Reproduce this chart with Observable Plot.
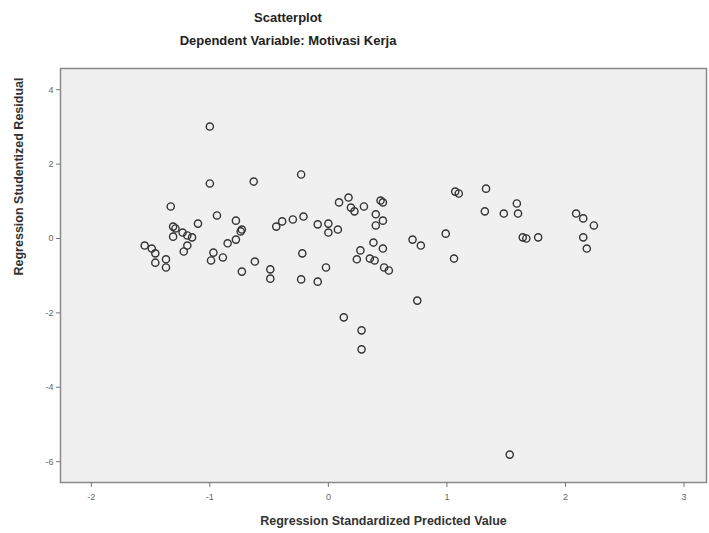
<!DOCTYPE html>
<html>
<head>
<meta charset="utf-8">
<script src="https://cdn.jsdelivr.net/npm/d3@7"></script>
<script src="https://cdn.jsdelivr.net/npm/@observablehq/plot@0.6"></script>
<style>
  html, body { margin: 0; padding: 0; background: #fff; }
  #wrap { width: 709px; height: 533px; position: relative; font-family: "Liberation Sans", Arial, sans-serif; }
  #head { height: 56px; position: relative; }
  .t { position: absolute; left: 0; width: 576px; text-align: center; font-weight: bold; font-size: 13px; color: #222; }
  #t1 { top: 10px; }
  #t2 { top: 33px; }
</style>
</head>
<body>
<div id="wrap">
  <div id="head">
    <div class="t" id="t1">Scatterplot</div>
    <div class="t" id="t2">Dependent Variable: Motivasi Kerja</div>
  </div>
  <div id="chart"></div>
</div>
<script>
const xLabel = "Regression Standardized Predicted Value";
const yLabel = "Regression Studentized Residual";
const xTicks = [-2, -1, 0, 1, 2, 3];
const yTicks = [-6, -4, -2, 0, 2, 4];

const predicted = [
  -1.00, -1.00, -0.63, -0.23, -1.33, -0.94, -0.78, -1.10, -1.31, -1.29,
  -1.31, -1.23, -1.19, -1.15, -1.19, -1.22, -1.55, -1.49, -1.46, -1.46,
  -1.37, -1.37, -0.74, -0.73, -0.78, -0.85, -0.97, -0.89, -0.99, -0.62,
  -0.73, -0.49, -0.49, -0.23, -0.09, -0.44, -0.39, -0.30, -0.21, -0.09,
  -0.22, 0.00, 0.00, 0.08, -0.02, 0.09, 0.17, 0.19, 0.22, 0.30,
  0.44, 0.46, 0.40, 0.46, 0.40, 0.27, 0.38, 0.46, 0.24, 0.35,
  0.39, 0.47, 0.51, 0.71, 0.78, 0.99, 1.06, 0.75, 0.13, 0.28,
  0.28, 1.07, 1.10, 1.33, 1.32, 1.48, 1.59, 1.60, 1.64, 1.67,
  1.77, 2.09, 2.15, 2.24, 2.15, 2.18, 1.53
];
const residual = [
  3.01, 1.48, 1.53, 1.72, 0.86, 0.62, 0.48, 0.40, 0.32, 0.27,
  0.05, 0.16, 0.08, 0.03, -0.19, -0.35, -0.19, -0.27, -0.40, -0.65,
  -0.56, -0.78, 0.19, 0.24, -0.03, -0.13, -0.38, -0.51, -0.59, -0.62,
  -0.89, -0.83, -1.08, -1.10, -1.16, 0.32, 0.46, 0.51, 0.59, 0.38,
  -0.40, 0.40, 0.16, 0.24, -0.78, 0.97, 1.10, 0.83, 0.73, 0.86,
  1.02, 0.97, 0.65, 0.48, 0.35, -0.32, -0.11, -0.27, -0.56, -0.54,
  -0.59, -0.78, -0.86, -0.03, -0.19, 0.13, -0.54, -1.67, -2.12, -2.47,
  -2.98, 1.26, 1.21, 1.34, 0.73, 0.67, 0.94, 0.67, 0.03, 0.00,
  0.03, 0.67, 0.54, 0.35, 0.03, -0.27, -5.81
];

const data = predicted.map((p, i) => ({p, r: residual[i]}));
const fmt = d => String(d);

const chart = Plot.plot({
  width: 709,
  height: 477,
  marginTop: 12,
  marginBottom: 51,
  marginLeft: 60,
  marginRight: 3,
  style: { background: "#fff", fontFamily: "'Liberation Sans', Arial, sans-serif", overflow: "visible" },
  x: { domain: [-2.26, 3.19] },
  y: { domain: [-6.56, 4.57] },
  marks: [
    Plot.frame({ fill: "#f0f0f0", stroke: "#8a8a8a", strokeWidth: 1.5 }),
    Plot.axisX({ ticks: xTicks, tickFormat: fmt, tickSize: 5, tickPadding: 6, fontSize: 9, color: "#666", stroke: "#777", label: null }),
    Plot.axisY({ ticks: yTicks, tickFormat: fmt, tickSize: 4, tickPadding: 3, fontSize: 9, color: "#666", stroke: "#777", label: null }),
    Plot.text([xLabel], { frameAnchor: "bottom", dy: 42, fontSize: 12.5, fontWeight: "bold", fill: "#333" }),
    Plot.text([yLabel], { frameAnchor: "left", dx: -42, rotate: -90, fontSize: 12.5, fontWeight: "bold", fill: "#333" }),
    Plot.dot(data, { x: "p", y: "r", r: 3.6, stroke: "#333", strokeWidth: 1.4, fill: "none" })
  ]
});
document.getElementById("chart").appendChild(chart);
</script>
</body>
</html>
